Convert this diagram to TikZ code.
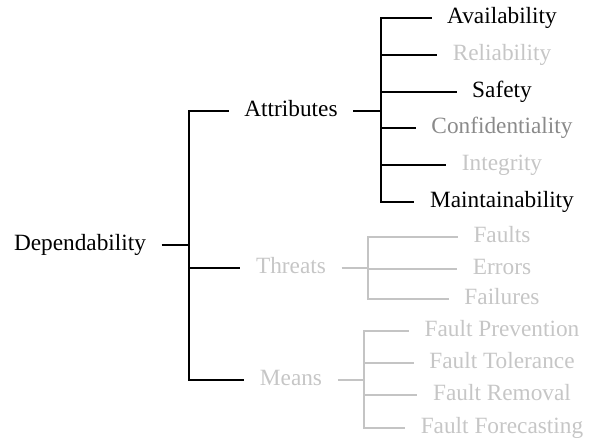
\documentclass[tikz,border=0pt]{standalone}
\usepackage{fontspec}
\setmainfont{Liberation Serif}
\definecolor{lightg}{HTML}{C6C6C6}
\definecolor{midg}{HTML}{8A8A8A}
\definecolor{lineg}{HTML}{C4C4C4}
\tikzset{
  lbl/.style={inner xsep=15.5pt, inner ysep=0pt, font=\fontsize{23.3}{28}\selectfont, anchor=mid},
  blk/.style={draw=black, line width=2pt},
  gry/.style={draw=lineg, line width=2.2pt},
}
\begin{document}
\begin{tikzpicture}[x=1pt,y=-1pt]
\fontsize{23.3}{28}\selectfont
\useasboundingbox (0,0) rectangle (595,440);
% level 0 and 1
\node[lbl] (dep) at (80,245) {Dependability};
\node[lbl] (attr) at (291,111) {Attributes};
\node[lbl, text=lightg] (thr) at (291,268) {Threats};
\node[lbl, text=lightg] (means) at (291,380) {Means};
\coordinate (j0) at (189,245);
\coordinate (j1) at (381,111);
\coordinate (j2) at (368,268);
\coordinate (j3) at (364,380);
% attributes
\node[lbl] (a1) at (502,18) {Availability};
\node[lbl, text=lightg] (a2) at (502,55) {Reliability};
\node[lbl] (a3) at (502,92) {Safety};
\node[lbl, text=midg] (a4) at (502,128) {Confidentiality};
\node[lbl, text=lightg] (a5) at (502,165) {Integrity};
\node[lbl] (a6) at (502,202) {Maintainability};
% threats
\node[lbl, text=lightg] (t1) at (502,237) {Faults};
\node[lbl, text=lightg] (t2) at (502,269) {Errors};
\node[lbl, text=lightg] (t3) at (502,299) {Failures};
% means
\node[lbl, text=lightg] (m1) at (502,331) {Fault Prevention};
\node[lbl, text=lightg] (m2) at (502,363) {Fault Tolerance};
\node[lbl, text=lightg] (m3) at (502,395) {Fault Removal};
\node[lbl, text=lightg] (m4) at (502,428) {Fault Forecasting};
% level 0 connectors
\draw[blk] (dep.mid east) -- (j0);
\draw[blk] (attr.mid west) -- (attr.mid west -| j0) -- (means.mid west -| j0) -- (means.mid west);
\draw[blk] (thr.mid west -| j0) -- (thr.mid west);
% attributes connectors
\draw[blk] (attr.mid east) -- (j1);
\draw[blk] (a1.mid west) -- (a1.mid west -| j1) -- (a6.mid west -| j1) -- (a6.mid west);
\foreach \n in {a2,a3,a4,a5} \draw[blk] (\n.mid west -| j1) -- (\n.mid west);
% threats connectors
\draw[gry] (thr.mid east) -- (j2);
\draw[gry] (t1.mid west) -- (t1.mid west -| j2) -- (t3.mid west -| j2) -- (t3.mid west);
\draw[gry] (t2.mid west -| j2) -- (t2.mid west);
% means connectors
\draw[gry] (means.mid east) -- (j3);
\draw[gry] (m1.mid west) -- (m1.mid west -| j3) -- (m4.mid west -| j3) -- (m4.mid west);
\foreach \n in {m2,m3} \draw[gry] (\n.mid west -| j3) -- (\n.mid west);
\end{tikzpicture}
\end{document}
